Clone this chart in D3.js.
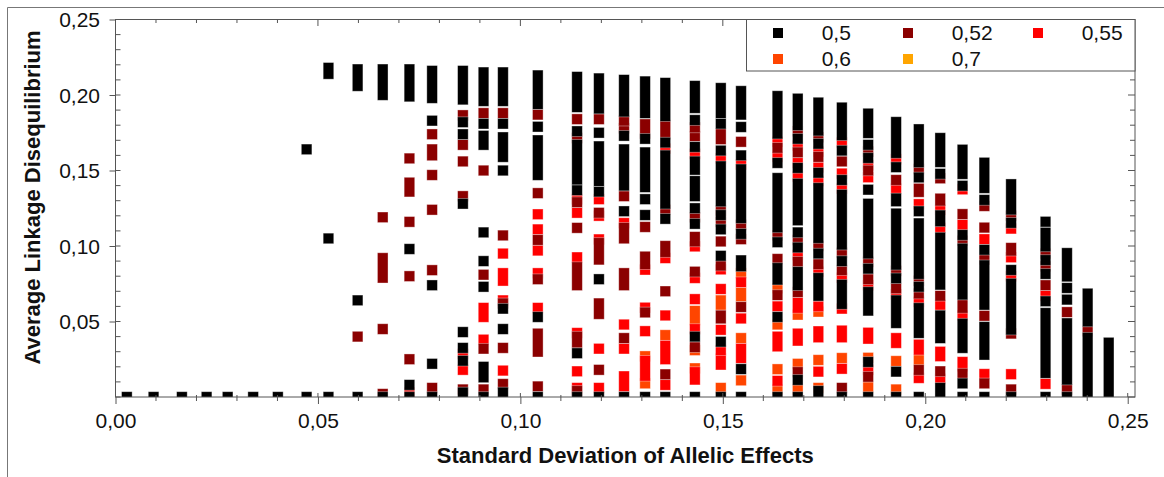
<!DOCTYPE html>
<meta charset="utf-8">
<style>
body { margin: 0; background: #fff; }
text { font-family: "Liberation Sans", Arial, sans-serif; fill: #111; }
.tick-label { font-size: 21px; }
.title { font-size: 22px; font-weight: bold; }
</style>
<body>
<svg width="1164" height="477"></svg>
<script src="https://cdn.jsdelivr.net/npm/d3@7"></script>
<script>

// standard deviation of allelic effects, one entry per column of markers
var sdEffects = [0.0028, 0.0094, 0.0164, 0.0225, 0.0277, 0.0340, 0.0401, 0.0472, 0.0526, 0.0598,
                 0.0660, 0.0726, 0.0782, 0.0858, 0.0909, 0.0957, 0.1043, 0.1140, 0.1194, 0.1256,
                 0.1308, 0.1358, 0.1431, 0.1495, 0.1545, 0.1635, 0.1685, 0.1736, 0.1794, 0.1859,
                 0.1928, 0.1984, 0.2037, 0.2092, 0.2146, 0.2212, 0.2297, 0.2350, 0.2401, 0.2453];

var seriesLabels = ["0,5", "0,52", "0,55", "0,6", "0,7"];
var seriesColors = ["#000000", "#8b0000", "#ff0000", "#ff4500", "#ffa500"];

// average LD: [column, value] or [column, lowest, highest] for a stacked run of points
var ld050 = [[0,0],[1,0],[2,0],[3,0],[4,0],[5,0],[6,0],
  [7,0],[7,0.164],
  [8,0],[8,0.105],[8,0.214,0.218],
  [9,0],[9,0.064],[9,0.206,0.217],
  [10,0],[10,0.200,0.217],
  [11,0],[11,0.008],[11,0.098],[11,0.199,0.217],
  [12,0],[12,0.022],[12,0.074],[12,0.183],[12,0.198,0.216],
  [13,0,0.003],[13,0.024],[13,0.0325],[13,0.043],[13,0.128],[13,0.174],[13,0.182],[13,0.197,0.216],
  [14,0],[14,0.013,0.020],[14,0.073],[14,0.090],[14,0.109],[14,0.167,0.173],[14,0.181],[14,0.196,0.215],
  [15,0,0.003],[15,0.045],[15,0.0585],[15,0.150],[15,0.159,0.172],[15,0.181],[15,0.196,0.215],
  [16,0],[16,0.053],[16,0.147,0.170],[16,0.179],[16,0.194,0.213],
  [17,0],[17,0.029],[17,0.137],[17,0.144,0.167],[17,0.176],[17,0.192,0.212],
  [18,0],[18,0.078],[18,0.136],[18,0.143,0.166],[18,0.175],[18,0.191,0.211],
  [19,0],[19,0.123],[19,0.140,0.164],[19,0.173],[19,0.189,0.210],
  [20,0],[20,0.1205],[20,0.131],[20,0.139,0.162],[20,0.171],[20,0.188,0.209],
  [21,0],[21,0.118],[21,0.128,0.160],[21,0.1685],[21,0.186,0.208],
  [22,0],[22,0.040],[22,0.1147],[22,0.125],[22,0.133,0.143],[22,0.1505,0.156],[22,0.1656],[22,0.1834],[22,0.1914,0.206],
  [23,0],[23,0.0366],[23,0.0935],[23,0.111],[23,0.1205],[23,0.1295,0.1528],[23,0.1632],[23,0.181],[23,0.188,0.2046],
  [24,0],[24,0.0185],[24,0.0865,0.0905],[24,0.108],[24,0.1185,0.1508],[24,0.160],[24,0.1788],[24,0.187,0.2026],
  [25,0],[25,0.053],[25,0.0777,0.0854],[25,0.1025],[25,0.1123,0.145],[25,0.155],[25,0.1744,0.1993],
  [26,0],[26,0.0113],[26,0.074,0.0828],[26,0.099],[26,0.109],[26,0.117,0.1413],[26,0.1517],[26,0.171],[26,0.180,0.1976],
  [27,0,0.004],[27,0.067,0.0788],[27,0.095],[27,0.1053,0.1384],[27,0.1485],[27,0.1677],[27,0.1764,0.195],
  [28,0],[28,0.0616,0.0744],[28,0.090],[28,0.1009,0.134],[28,0.1437],[28,0.1632],[28,0.1733,0.1917],
  [29,0],[29,0.0232],[29,0.0572,0.0695],[29,0.085],[29,0.095,0.128],[29,0.1373],[29,0.1583],[29,0.167],[29,0.1748,0.1877],
  [30,0],[30,0.0168],[30,0.049,0.064],[30,0.0786],[30,0.0876,0.1215],[30,0.1296,0.1315],[30,0.1522],[30,0.1616,0.1821],
  [31,0],[31,0.0424,0.0589],[31,0.073],[31,0.0815,0.115],[31,0.123],[31,0.1454],[31,0.1554,0.1773],
  [32,0,0.006],[32,0.039,0.054],[32,0.0744,0.1056],[32,0.1163,0.1203],[32,0.1478],[32,0.1556,0.1715],
  [33,0],[33,0.009],[33,0.0325,0.0486],[33,0.0678,0.0983],[33,0.1073],[33,0.1399],[33,0.1477,0.1638],
  [34,0],[34,0.028,0.0464],[34,0.0611,0.0872],[34,0.0975],[34,0.1305],[34,0.1384,0.1552],
  [35,0],[35,0.0446,0.0751],[35,0.0841],[35,0.1153],[35,0.1241,0.1409],
  [36,0],[36,0.0159,0.0556],[36,0.0634],[36,0.0815],[36,0.0907],[36,0.0997,0.1089],[36,0.1161],
  [37,0],[37,0.0115,0.0488],[37,0.0645],[37,0.0722],[37,0.0798,0.0953],
  [38,0,0.0393],[38,0.050,0.0685],
  [39,0,0.036]];

var ld052 = [[9,0.040],
  [10,0.002],[10,0.045],[10,0.079,0.092],[10,0.119],
  [11,0.025],[11,0.080],[11,0.116],[11,0.136,0.142],[11,0.158],
  [12,0.006],[12,0.084],[12,0.124],[12,0.147],[12,0.160,0.164],[12,0.174],
  [13,0.005],[13,0.133],[13,0.156],[13,0.167],[13,0.1866],
  [14,0.005],[14,0.032],[14,0.081],[14,0.150],[14,0.188],
  [15,0.0086],[15,0.0325],[15,0.062],[15,0.107],[15,0.188],
  [16,0.007],[16,0.030,0.042],[16,0.078],[16,0.104],[16,0.135],[16,0.187],
  [17,0.004],[17,0.036,0.040],[17,0.074,0.086],[17,0.112],[17,0.129],[17,0.1715],[17,0.184],
  [18,0.018],[18,0.055,0.062],[18,0.091,0.102],[18,0.122],[18,0.184],
  [19,0.039],[19,0.074,0.082],[19,0.105,0.112],[19,0.133],[19,0.178],[19,0.183],
  [20,0.056],[20,0.088,0.093],[20,0.1126],[20,0.1745,0.1806],
  [21,0.015],[21,0.070],[21,0.096,0.100],[21,0.124],[21,0.174,0.180],
  [22,0.033],[22,0.083],[22,0.103,0.106],[22,0.119],[22,0.1727],[22,0.1785],
  [23,0.052,0.054],[23,0.087],[23,0.103],[23,0.116],[23,0.1235],[23,0.1707,0.1745],
  [24,0.0596],[24,0.1045],[24,0.114],[24,0.169],
  [25,0.0675],[25,0.0914],[25,0.107],[25,0.165],
  [26,0.0165],[26,0.0695],[26,0.0896],[26,0.104],[26,0.162],[26,0.176],
  [27,0.088],[27,0.100],[27,0.159],[27,0.172],
  [28,0.006],[28,0.084],[28,0.0955],[28,0.156],
  [29,0.0134],[29,0.078],[29,0.0895],[29,0.150],[29,0.1625],
  [30,0.072],[30,0.0835],[30,0.1437],
  [31,0.0179],[31,0.0685],[31,0.077],[31,0.1358,0.138],[31,0.151],
  [32,0.017],[32,0.067],[32,0.130,0.1314],[32,0.1448],
  [33,0.0155],[33,0.059,0.061],[33,0.1035],[33,0.1211],
  [34,0.009],[34,0.0538],[34,0.091],[34,0.1122],[34,0.1265],
  [35,0.005],[35,0.042],[35,0.0969,0.0987],[35,0.120],
  [36,0.074],[36,0.0865],[36,0.095],
  [37,0.005],[37,0.0562],
  [38,0.0435]];

var ld055 = [[11,0.003],
  [13,0.018],[13,0.0285],
  [14,0.038],[14,0.053,0.059],
  [15,0.0175],[15,0.064],[15,0.077,0.082],[15,0.095],
  [16,0.059],[16,0.082],[16,0.097],[16,0.111],[16,0.121],
  [17,0.006],[17,0.017],[17,0.0424],[17,0.0925],[17,0.122],[17,0.131],
  [18,0.006],[18,0.032],[18,0.1044],[18,0.120],[18,0.131],
  [19,0.007,0.0137],[19,0.032],[19,0.048],[19,0.1152],
  [20,0.014,0.024],[20,0.0436],[20,0.0592],[20,0.0843],
  [21,0.008],[21,0.025,0.034],[21,0.054],[21,0.092],[21,0.1645],
  [22,0.0115,0.0165],[22,0.045],[22,0.0648],[22,0.0788],[22,0.0997],[22,0.161],
  [23,0.0214,0.0254],[23,0.031],[23,0.0445],[23,0.0715],[23,0.0845],[23,0.158],
  [24,0.0258,0.032],[24,0.052],[24,0.076],[24,0.154],
  [25,0.0107],[25,0.0335,0.040],[25,0.060],[25,0.159],[25,0.169],
  [26,0.0373,0.042],[26,0.059,0.0625],[26,0.094],[26,0.146],[26,0.155],[26,0.1665],
  [27,0.0168],[27,0.0395,0.0435],[27,0.060],[27,0.083],[27,0.143],[27,0.152],[27,0.1625],
  [28,0.0187],[28,0.0395,0.044],[28,0.0585],[28,0.079],[28,0.138],[28,0.148],[28,0.1685],
  [29,0.018],[29,0.0386,0.0426],[29,0.074],[29,0.1455],[29,0.1535],
  [30,0.0358,0.039],[30,0.068],[30,0.138],[30,0.1575],
  [31,0.0126],[31,0.0313,0.0347],[31,0.063],[31,0.1277],
  [32,0.012],[32,0.027,0.030],[32,0.061],[32,0.112],[32,0.124],
  [33,0.0203,0.0232],[33,0.054],[33,0.114],[33,0.1375],
  [34,0.0152],[34,0.1045],
  [35,0.0151],[35,0.080],[35,0.0925],[35,0.1115],
  [36,0.0087],[36,0.067]];

var ld060 = [[20,0.009],[20,0.027],
  [21,0.041],
  [22,0.019],[22,0.031],[22,0.051,0.057],
  [23,0.006],[23,0.061,0.064],
  [24,0.011],[24,0.039],[24,0.0666,0.069],[24,0.082],
  [25,0.005],[25,0.0184],[25,0.048],[25,0.072],
  [26,0.005],[26,0.022],[26,0.0545],
  [27,0.006],[27,0.0245],[27,0.0565],
  [28,0.0258],
  [29,0.0065],[29,0.026],
  [30,0.005],[30,0.0238],
  [31,0.0245]];

var ld070 = [];

var series = [ld050, ld052, ld055, ld060, ld070];

var xTicks = [0, 0.05, 0.10, 0.15, 0.20, 0.25];
var yTicks = [0.05, 0.10, 0.15, 0.20, 0.25];

var svg = d3.select("svg"),
    plot = {left: 115.5, right: 1135, top: 19.5, bottom: 397},
    size = 10.6,
    axisColor = "#555";

var x = d3.scaleLinear().domain([0, 0.2518]).range([plot.left, plot.right]);
var y = d3.scaleLinear().domain([0, 0.25]).range([plot.bottom, plot.top]);

var fmt = function(d) { return d3.format(".2f")(d).replace(".", ","); };
var minor = d3.range(26).map(function(i) { return i / 100; });

// outer frame of the figure
svg.append("line").attr("x1", 7.5).attr("x2", 1164).attr("y1", 7.5).attr("y2", 7.5)
  .attr("stroke", "#777");
svg.append("line").attr("x1", 7.5).attr("x2", 7.5).attr("y1", 7.5).attr("y2", 477)
  .attr("stroke", "#777");

svg.append("clipPath").attr("id", "plotclip")
  .append("rect")
    .attr("x", plot.left).attr("y", plot.top)
    .attr("width", plot.right - plot.left).attr("height", plot.bottom - plot.top);

var marks = svg.append("g").attr("clip-path", "url(#plotclip)");

// highest ratio first so the black 0,5 points end up on top
for (var s = series.length - 1; s >= 0; s--) {
  marks.append("g").selectAll("rect")
    .data(series[s])
    .enter().append("rect")
      .attr("x", function(d) { return x(sdEffects[d[0]]) - size / 2; })
      .attr("y", function(d) { return y(d.length > 2 ? d[2] : d[1]) - size / 2; })
      .attr("width", size)
      .attr("height", function(d) { return y(d[1]) - y(d.length > 2 ? d[2] : d[1]) + size; })
      .attr("fill", seriesColors[s])
      .attr("stroke", "#fff")
      .attr("stroke-opacity", 0.45)
      .attr("stroke-width", 0.8);
}

// plot frame
svg.append("rect")
  .attr("x", plot.left).attr("y", plot.top)
  .attr("width", plot.right - plot.left).attr("height", plot.bottom - plot.top)
  .attr("fill", "none").attr("stroke", axisColor);

// bottom axis with labels
var xAxis = svg.append("g")
  .attr("transform", "translate(0," + plot.bottom + ")")
  .call(d3.axisBottom(x).tickValues(xTicks).tickSize(7).tickSizeOuter(0).tickPadding(9).tickFormat(fmt));
xAxis.select(".domain").remove();
xAxis.selectAll("line").attr("stroke", axisColor);
xAxis.selectAll("text").attr("class", "tick-label").attr("fill", "#111");

// left axis with labels
var yAxis = svg.append("g")
  .attr("transform", "translate(" + plot.left + ",0)")
  .call(d3.axisLeft(y).tickValues(yTicks).tickSize(6).tickSizeOuter(0).tickPadding(9.5).tickFormat(fmt));
yAxis.select(".domain").remove();
yAxis.selectAll("line").attr("stroke", axisColor);
yAxis.selectAll("text").attr("class", "tick-label").attr("fill", "#111").attr("dy", "0.35em");

var ticks = svg.append("g").attr("stroke", axisColor);

// inner parts of major ticks and the minor ticks on all four sides
function isMajor(d) { return Math.abs(d * 20 - Math.round(d * 20)) < 1e-6; }

ticks.selectAll(".xb").data(minor).enter().append("line")
  .attr("x1", function(d) { return x(d); }).attr("x2", function(d) { return x(d); })
  .attr("y1", function(d) { return plot.bottom - (isMajor(d) ? 4 : 2); })
  .attr("y2", function(d) { return plot.bottom + (isMajor(d) ? 0 : 4); });

ticks.selectAll(".xt").data(minor).enter().append("line")
  .attr("x1", function(d) { return x(d); }).attr("x2", function(d) { return x(d); })
  .attr("y1", plot.top)
  .attr("y2", function(d) { return plot.top + (isMajor(d) ? 6.5 : 3.5); });

ticks.selectAll(".yl").data(minor).enter().append("line")
  .attr("y1", function(d) { return y(d); }).attr("y2", function(d) { return y(d); })
  .attr("x1", plot.left)
  .attr("x2", plot.left + 5);

ticks.selectAll(".yr").data(minor).enter().append("line")
  .attr("y1", function(d) { return y(d); }).attr("y2", function(d) { return y(d); })
  .attr("x1", function(d) { return plot.right - (isMajor(d) ? 7 : 5); })
  .attr("x2", plot.right);

// axis titles
svg.append("text")
  .attr("class", "title")
  .attr("text-anchor", "middle")
  .attr("transform", "translate(40,197.5) rotate(-90)")
  .text("Average Linkage Disequilibrium");

svg.append("text")
  .attr("class", "title")
  .attr("text-anchor", "middle")
  .attr("x", (plot.left + plot.right) / 2)
  .attr("y", 463)
  .text("Standard Deviation of Allelic Effects");

// legend
var legend = svg.append("g");
legend.append("rect")
  .attr("x", 746.5).attr("y", plot.top)
  .attr("width", plot.right - 746.5).attr("height", 51.5)
  .attr("fill", "#fff").attr("stroke", axisColor);

var item = legend.selectAll(".item")
  .data(seriesLabels)
  .enter().append("g")
    .attr("transform", function(d, i) {
      return "translate(" + (778 + (i % 3) * 130) + "," + (33 + Math.floor(i / 3) * 26) + ")";
    });

item.append("rect")
  .attr("x", -5).attr("y", -5).attr("width", 10).attr("height", 10)
  .attr("fill", function(d, i) { return seriesColors[i]; });

item.append("text")
  .attr("class", "tick-label")
  .attr("x", 43.7)
  .attr("dy", "0.35em")
  .text(function(d) { return d; });

</script>
</body>
